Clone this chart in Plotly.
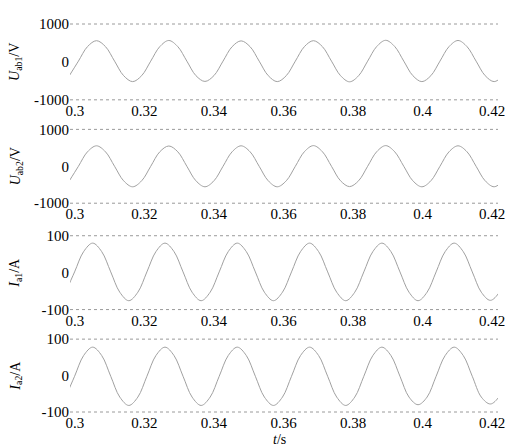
import plotly.graph_objects as go
from plotly.subplots import make_subplots

# time samples (s) for the voltage panels
t_u = [0.2984, 0.3010, 0.3036, 0.3062, 0.3088, 0.3114, 0.3140, 0.3166,
       0.3192, 0.3218, 0.3244, 0.3270, 0.3296, 0.3322, 0.3348, 0.3374,
       0.3400, 0.3426, 0.3452, 0.3478, 0.3504, 0.3530, 0.3556, 0.3582,
       0.3608, 0.3634, 0.3660, 0.3686, 0.3712, 0.3738, 0.3764, 0.3790,
       0.3816, 0.3842, 0.3868, 0.3894, 0.3920, 0.3946, 0.3972, 0.3998,
       0.4024, 0.4050, 0.4076, 0.4102, 0.4128, 0.4154, 0.4180, 0.4206,
       0.4232]

u_ab1 = [-362, 20, 402, 560, 402, 20, -362, -520,
         -362, 20, 402, 565, 402, 20, -362, -515,
         -360, 20, 400, 555, 400, 20, -362, -520,
         -362, 20, 402, 560, 402, 20, -362, -525,
         -365, 20, 405, 570, 405, 20, -362, -520,
         -362, 20, 402, 565, 402, 20, -362, -520,
         -362]

u_ab2 = [-392, 0, 392, 555, 392, 0, -392, -555,
         -392, 0, 392, 550, 392, 0, -392, -555,
         -392, 0, 392, 555, 392, 0, -392, -555,
         -392, 0, 395, 560, 395, 0, -392, -550,
         -392, 0, 395, 560, 392, 0, -392, -555,
         -392, 0, 392, 555, 392, 0, -392, -555,
         -392]

# time samples (s) for the current panels
t_i = [0.2973, 0.2999, 0.3025, 0.3051, 0.3077, 0.3103, 0.3129, 0.3155,
       0.3181, 0.3207, 0.3233, 0.3259, 0.3285, 0.3311, 0.3337, 0.3363,
       0.3389, 0.3415, 0.3441, 0.3467, 0.3493, 0.3519, 0.3545, 0.3571,
       0.3597, 0.3623, 0.3649, 0.3675, 0.3701, 0.3727, 0.3753, 0.3779,
       0.3805, 0.3831, 0.3857, 0.3883, 0.3909, 0.3935, 0.3961, 0.3987,
       0.4013, 0.4039, 0.4065, 0.4091, 0.4117, 0.4143, 0.4169, 0.4195,
       0.4221, 0.4247]

i_a1 = [-53, 2, 57, 80, 57, 2, -53, -76,
        -53, 2, 57, 80, 57, 2, -53, -76,
        -53, 2, 57, 80, 57, 2, -53, -76,
        -53, 2, 57, 80, 57, 2, -53, -76,
        -53, 2, 57, 80, 57, 2, -53, -76,
        -53, 2, 57, 80, 57, 2, -53, -75,
        -53, 2]

i_a2 = [-59, -2, 55, 78, 55, -2, -59, -82,
        -59, -2, 55, 78, 55, -2, -59, -82,
        -59, -2, 55, 78, 55, -2, -59, -82,
        -59, -2, 55, 78, 55, -2, -59, -82,
        -59, -2, 55, 78, 55, -2, -59, -80,
        -59, -2, 55, 78, 55, -2, -59, -78,
        -57, -2]

x_tickvals = [0.30, 0.32, 0.34, 0.36, 0.38, 0.40, 0.42]
x_ticktext = ["0.3", "0.32", "0.34", "0.36", "0.38", "0.4", "0.42"]
u_ticks = [-1000, 0, 1000]
u_ticktext = ["-1000", "0", "1000"]
i_ticks = [-100, 0, 100]
i_ticktext = ["-100", "0", "100"]

y_titles = ["<i>U</i><sub>ab1</sub>/V", "<i>U</i><sub>ab2</sub>/V",
            "<i>I</i><sub>a1</sub>/A", "<i>I</i><sub>a2</sub>/A"]
x_title = "<i>t</i>/s"

series = [(t_u, u_ab1), (t_u, u_ab2), (t_i, i_a1), (t_i, i_a2)]
y_ranges = [[-1000, 1000], [-1000, 1000], [-100, 100], [-100, 100]]
y_tick_sets = [(u_ticks, u_ticktext), (u_ticks, u_ticktext),
               (i_ticks, i_ticktext), (i_ticks, i_ticktext)]

FONT = "Liberation Serif, Times New Roman, serif"

fig = make_subplots(rows=4, cols=1, shared_xaxes=False)

domains = [[0.8046, 1.0], [0.5381, 0.7284], [0.2640, 0.4543], [0.0, 0.1878]]

for idx, ((tx, ty), yr, (tv, tt), dom) in enumerate(zip(series, y_ranges, y_tick_sets, domains)):
    r = idx + 1
    fig.add_trace(go.Scatter(x=tx, y=ty, mode="lines",
                             line=dict(color="#a0a0a0", width=1, shape="spline"),
                             showlegend=False, hoverinfo="skip"),
                  row=r, col=1)
    xa = "xaxis" if r == 1 else f"xaxis{r}"
    ya = "yaxis" if r == 1 else f"yaxis{r}"
    fig.layout[xa].update(range=[0.29858, 0.4217], tickvals=x_tickvals, ticktext=x_ticktext,
                          showgrid=False, zeroline=False, showline=False, ticks="",
                          tickfont=dict(family=FONT, size=15, color="black"))
    fig.layout[ya].update(range=yr, tickvals=tv, ticktext=tt, domain=dom,
                          showgrid=False, zeroline=False, showline=False, ticks="",
                          tickfont=dict(family=FONT, size=15, color="black"))
    xr = "x" if r == 1 else f"x{r}"
    yref = "y" if r == 1 else f"y{r}"
    for yy in (0, 1):
        fig.add_shape(type="line", xref=f"{xr} domain", yref=f"{yref} domain",
                      x0=0, x1=1, y0=yy, y1=yy,
                      line=dict(color="#9a9a9a", width=1, dash="dot"))
    fig.add_annotation(text=y_titles[idx], xref="paper", yref="paper",
                       x=-0.126, y=(dom[0] + dom[1]) / 2, textangle=-90,
                       showarrow=False, xanchor="center", yanchor="middle",
                       font=dict(family=FONT, size=14, color="black"))

fig.add_annotation(text=x_title, xref="paper", yref="paper", x=0.49, y=-0.071,
                   showarrow=False, xanchor="center", yanchor="middle",
                   font=dict(family=FONT, size=14, color="black"))

# page body adds an 8px offset; size the figure so its plot area lands where the reference's does
fig.update_layout(width=505, height=439, margin=dict(l=62, r=8, t=10, b=35),
                  plot_bgcolor="white", paper_bgcolor="white",
                  font=dict(family=FONT, size=14, color="black"))

fig.write_html("out.html")
